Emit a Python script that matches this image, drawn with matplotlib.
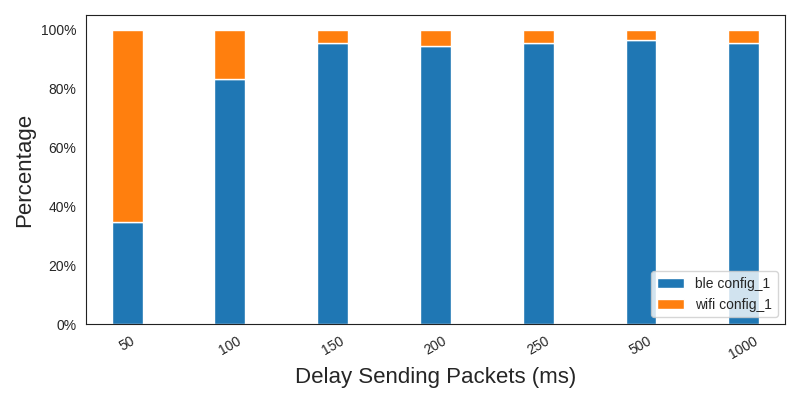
import numpy as np
import matplotlib
matplotlib.use("Agg")
import matplotlib.pyplot as plt
import seaborn as sns
from matplotlib.ticker import PercentFormatter

delays = ["50", "100", "150", "200", "250", "500", "1000"]
ble_pct = [34.5, 83.2, 95.5, 94.5, 95.5, 96.6, 95.5]
wifi_pct = [65.5, 16.8, 4.5, 5.5, 4.5, 3.4, 4.5]

sns.set_style("white")
plt.rcParams["font.family"] = ["Liberation Sans", "DejaVu Sans"]

fig = plt.figure(figsize=(8, 4), dpi=100)
ax = fig.add_axes([0.1075, 0.19, 0.8735, 0.7725])

x = np.arange(len(delays))
ax.bar(x, ble_pct, width=0.3, color="#1f77b4", edgecolor="white", linewidth=1, label="ble config_1")
ax.bar(x, wifi_pct, width=0.3, bottom=ble_pct, color="#ff7f0e", edgecolor="white", linewidth=1, label="wifi config_1")

ax.set_xticks(x)
ax.set_xticklabels(delays, rotation=30)
ax.set_xlim(-0.4, 6.4)
ax.set_ylim(0, 105)
ax.yaxis.set_major_formatter(PercentFormatter(100, decimals=0))
ax.set_xlabel("Delay Sending Packets (ms)", fontsize=16)
ax.set_ylabel("Percentage", fontsize=16)
ax.legend(loc="lower right", fontsize=10)

for s in ax.spines.values():
    s.set_color("#222222")

fig.savefig("out.png", dpi=100)
